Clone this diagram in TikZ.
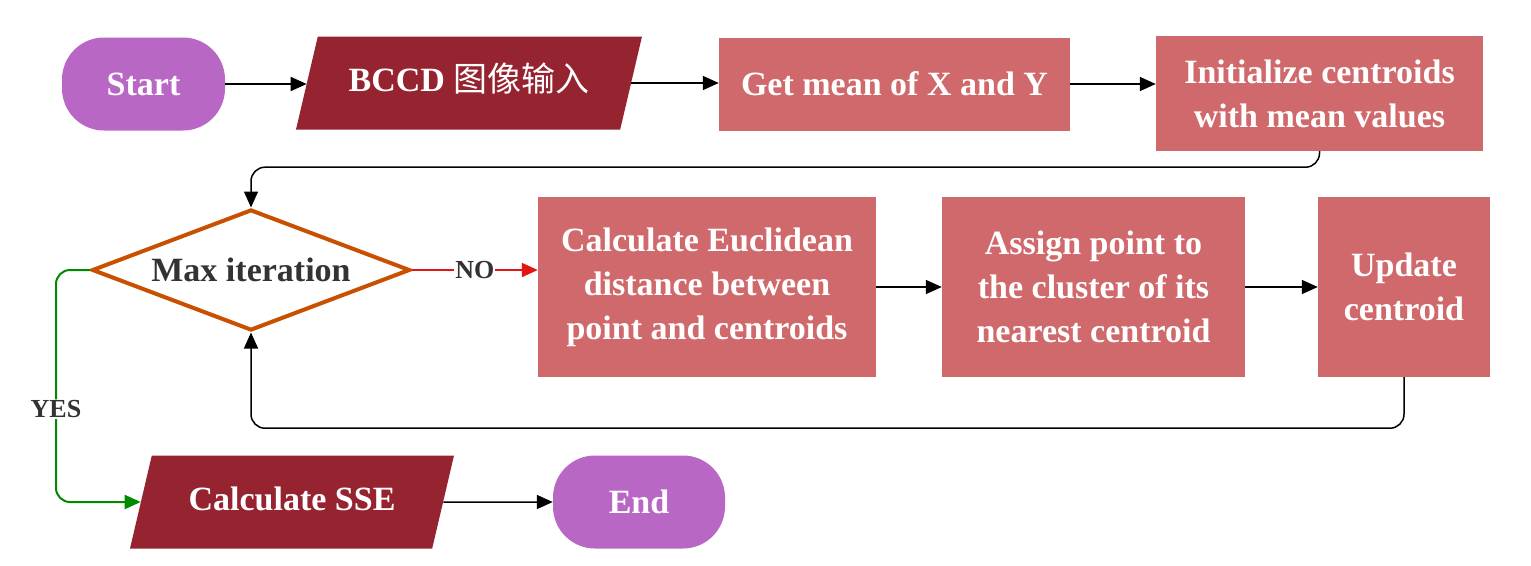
\documentclass[tikz,border=0pt]{standalone}
\usepackage{fontspec}
\setmainfont{Liberation Serif}
\newfontfamily\cjk{Noto Sans CJK SC}
\usepackage{tikz}
\usetikzlibrary{arrows.meta, shapes.geometric}
\definecolor{termfill}{HTML}{B967C4}
\definecolor{iofill}{HTML}{952330}
\definecolor{procfill}{HTML}{D0696B}
\definecolor{decline}{HTML}{C85000}
\definecolor{ink}{HTML}{333333}
\definecolor{yesgreen}{HTML}{008A00}
\definecolor{nored}{HTML}{E51414}
\tikzset{
  txt/.style={text=white, align=center, inner sep=2pt,
    font=\bfseries\fontsize{34}{44}\selectfont},
  term/.style={txt, fill=termfill, rounded corners=42pt,
    minimum width=172pt, minimum height=93pt},
  io/.style={txt, fill=iofill, trapezium, trapezium left angle=76.8,
    trapezium right angle=103.2, trapezium stretches body=true,
    text height=26pt, text depth=9pt, inner ysep=29pt, minimum height=93pt},
  proc/.style={txt, fill=procfill},
  dec/.style={diamond, draw=decline, line width=4pt, text=ink, aspect=2.6,
    inner sep=2pt, minimum width=318pt, minimum height=121pt,
    font=\bfseries\fontsize{34}{44}\selectfont},
  flow/.style={-{Triangle[length=16pt, width=14pt]}, line width=1.5pt, color=black},
  flowy/.style={flow, color=yesgreen, line width=2pt},
  flown/.style={flow, color=nored, line width=2pt},
  lbl/.style={font=\bfseries\fontsize{26}{30}\selectfont, text=ink,
    fill=white, inner sep=1pt},
}
\begin{document}
\begin{tikzpicture}[x=1pt, y=-1pt]
  \useasboundingbox (0,0) rectangle (1531,565);
  % top row
  \node[term, minimum width=163pt] (start) at (143.5,84) {Start};
  \node[io, minimum width=346pt] (bccd) at (469,83) {BCCD {\cjk\mdseries 图像输入}};
  \node[proc, minimum width=351pt, minimum height=93pt] (mean) at (894.5,84) {Get mean of X and Y};
  \node[proc, minimum width=327pt, minimum height=115pt] (init) at (1319.5,93.5)
    {Initialize centroids\\with mean values};
  % loop
  \node[dec] (maxit) at (251,270) {Max iteration};
  \node[proc, minimum width=338pt, minimum height=180pt] (dist) at (707,287)
    {Calculate Euclidean\\distance between\\point and centroids};
  \node[proc, minimum width=303pt, minimum height=180pt] (assign) at (1093.5,287)
    {Assign point to\\the cluster of its\\nearest centroid};
  \node[proc, minimum width=172pt, minimum height=180pt] (update) at (1404,287)
    {Update\\centroid};
  % bottom row
  \node[io, minimum width=324pt, minimum height=92pt] (sse) at (292,502) {Calculate SSE};
  \node[term] (end) at (639,502) {End};
  \draw[flow] (start) -- (start -| bccd.west);
  \draw[flow] (bccd.east) -- (bccd.east -| mean.west);
  \draw[flow] (mean.east) -- (mean.east -| init.west);
  \draw[flow, rounded corners=14pt] (init.south) -- ++(0,16) -| (maxit.north);
  \draw[flown] (maxit.east) -- node[lbl] {NO} (maxit.east -| dist.west);
  \draw[flow] (dist) -- (assign);
  \draw[flow] (assign) -- (update);
  \draw[flow, rounded corners=14pt] (update.south) -- ++(0,51) -| (maxit.south);
  \draw[flowy, rounded corners=14pt] (maxit.west) -- ++(-34,0) |- node[lbl, pos=0.3] {YES} (sse.west);
  \draw[flow] (sse) -- (end);
\end{tikzpicture}
\end{document}
